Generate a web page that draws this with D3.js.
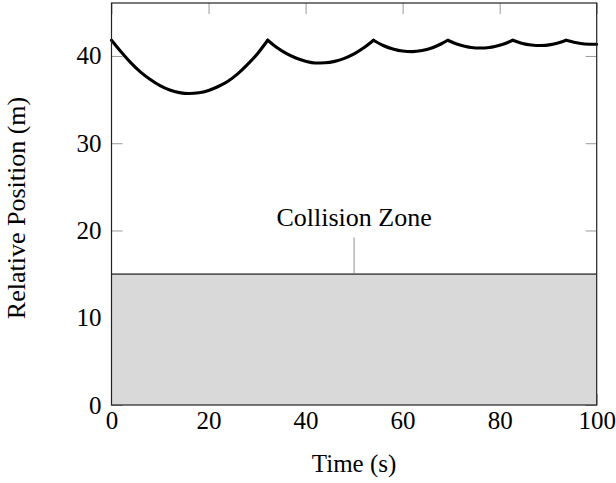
<!DOCTYPE html>
<html>
<head>
<meta charset="utf-8">
<script src="https://cdn.jsdelivr.net/npm/d3@7"></script>
<style>
  body { margin: 0; background: #fff; }
  svg { display: block; }
  svg text { font-family: "Liberation Serif", "Times New Roman", Times, "DejaVu Serif", serif !important; fill: #000; }
</style>
</head>
<body>
<svg id="chart" width="616" height="483"></svg>
<script>
// ---- data ----
const time = [0, 2, 4, 6, 8, 10, 12, 14, 16, 18, 20, 22, 24, 26, 28, 30, 32.2,
  34, 36, 38, 40, 42, 44, 46, 48, 50, 52, 54,
  56, 58, 60, 62, 64, 66, 68, 69.3,
  71, 73, 75, 77, 79, 81, 82.7,
  84.5, 86.5, 88.5, 90.5, 92, 93.7,
  95.5, 97.5, 100];
const position = [41.8, 40.45, 39.2, 38.15, 37.3, 36.6, 36.1, 35.8, 35.7, 35.78, 36.05, 36.5, 37.1, 37.95, 39.0, 40.2, 41.8,
  41.0, 40.3, 39.77, 39.4, 39.2, 39.22, 39.38, 39.73, 40.24, 40.93, 41.8,
  41.2, 40.8, 40.56, 40.5, 40.62, 40.92, 41.4, 41.8,
  41.4, 41.08, 40.92, 40.92, 41.08, 41.4, 41.8,
  41.47, 41.26, 41.2, 41.3, 41.49, 41.8,
  41.55, 41.38, 41.35];
const xTicks = [0, 20, 40, 60, 80, 100];
const yTicks = [0, 10, 20, 30, 40];
const zoneLimit = [15];
const zoneLabel = ["Collision Zone"];
const labelAt = [50, 20.5];
const xDomain = [0, 100];
const yDomain = [0, 46.07];

// ---- layout ----
const FONT = '"Liberation Serif", "Times New Roman", Times, "DejaVu Serif", serif';
const L = 111.5, R = 596.7, T = 3, B = 405;
const svg = d3.select("#chart");
const x = d3.scaleLinear().domain(xDomain).range([L, R]);
const y = d3.scaleLinear().domain(yDomain).range([B, T]);
const tickLen = 11;

// inner tick marks on all four sides
const tickColor = "#9a9a9a";
function styleTicks(g) {
  g.select(".domain").remove();
  g.selectAll(".tick line").attr("stroke", tickColor).attr("stroke-width", 1);
  g.selectAll(".tick text").remove();
}
svg.append("g").attr("transform", `translate(0,${B})`)
  .call(d3.axisTop(x).tickValues(xTicks).tickSize(tickLen)).call(styleTicks);
svg.append("g").attr("transform", `translate(0,${T})`)
  .call(d3.axisBottom(x).tickValues(xTicks).tickSize(tickLen)).call(styleTicks);
svg.append("g").attr("transform", `translate(${L},0)`)
  .call(d3.axisRight(y).tickValues(yTicks).tickSize(tickLen)).call(styleTicks);
svg.append("g").attr("transform", `translate(${R},0)`)
  .call(d3.axisLeft(y).tickValues(yTicks).tickSize(tickLen)).call(styleTicks);

// collision zone fill
svg.append("rect")
  .attr("x", x(xDomain[0])).attr("y", y(zoneLimit[0]))
  .attr("width", x(xDomain[1]) - x(xDomain[0]))
  .attr("height", y(0) - y(zoneLimit[0]))
  .attr("fill", "#d9d9d9");
svg.append("line")
  .attr("x1", x(xDomain[0])).attr("x2", x(xDomain[1]))
  .attr("y1", y(zoneLimit[0])).attr("y2", y(zoneLimit[0]))
  .attr("stroke", "#5a5a5a").attr("stroke-width", 1.8);

// pin to label
svg.append("line")
  .attr("x1", x(labelAt[0])).attr("x2", x(labelAt[0]))
  .attr("y1", y(zoneLimit[0]) - 1).attr("y2", y(labelAt[1] - 1.3))
  .attr("stroke", "#aaaaaa").attr("stroke-width", 1.3);
svg.append("text")
  .attr("x", x(labelAt[0])).attr("y", y(labelAt[1]))
  .attr("text-anchor", "middle").attr("font-family", FONT)
  .style("font-size", "26px")
  .text(zoneLabel[0]);

// line: split into arcs at the local maxima so that the cusps stay sharp
const idx = d3.range(time.length);
const cuts = [0];
for (let i = 1; i < idx.length - 1; i++) {
  if (position[i] > position[i - 1] && position[i] >= position[i + 1]) cuts.push(i);
}
cuts.push(idx.length - 1);
const line = d3.line().x(i => x(time[i])).y(i => y(position[i])).curve(d3.curveMonotoneX);
const segs = d3.pairs(cuts).map(([a, b]) => d3.range(a, b + 1));
svg.append("g").selectAll("path").data(segs).join("path")
  .attr("d", line)
  .attr("fill", "none").attr("stroke", "#000").attr("stroke-width", 3.1)
  .attr("stroke-linejoin", "miter").attr("stroke-linecap", "round");

// frame
svg.append("rect").attr("x", L).attr("y", T).attr("width", R - L).attr("height", B - T)
  .attr("fill", "none").attr("stroke", "#222").attr("stroke-width", 1.2);

// tick labels
const xAxis = svg.append("g").attr("transform", `translate(0,${B})`)
  .call(d3.axisBottom(x).tickValues(xTicks).tickSize(0).tickPadding(6).tickFormat(d3.format("d")));
xAxis.attr("font-family", FONT).attr("font-size", 25);
xAxis.select(".domain").remove();
xAxis.selectAll("text").attr("dy", "0.71em");

const yAxis = svg.append("g").attr("transform", `translate(${L},0)`)
  .call(d3.axisLeft(y).tickValues(yTicks).tickSize(0).tickPadding(10).tickFormat(d3.format("d")));
yAxis.attr("font-family", FONT).attr("font-size", 25);
yAxis.select(".domain").remove();

// axis titles
svg.append("text").attr("x", (L + R) / 2).attr("y", 472).attr("font-family", FONT)
  .attr("text-anchor", "middle").style("font-size", "25px").text("Time (s)");
svg.append("text").attr("font-family", FONT)
  .attr("transform", `translate(25,${(T + B) / 2 + 4}) rotate(-90)`)
  .attr("text-anchor", "middle").style("font-size", "26px").text("Relative Position (m)");
</script>
</body>
</html>
